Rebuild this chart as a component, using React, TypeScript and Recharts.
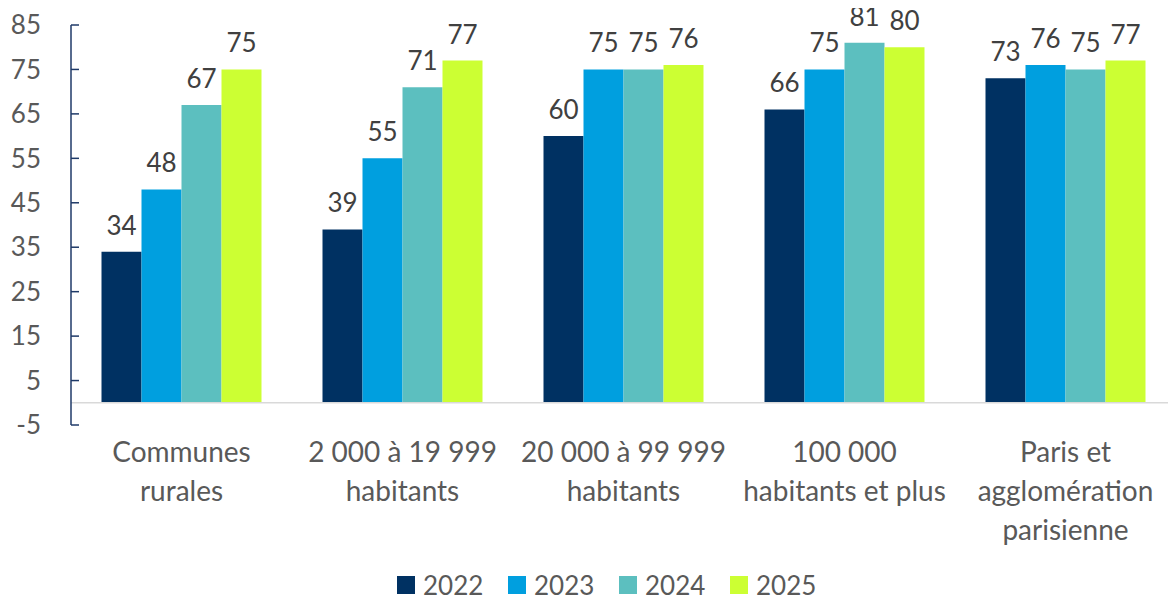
import React from "react";
import { BarChart, Bar, XAxis, YAxis, ReferenceLine, LabelList, Legend } from "recharts";

const categories = [
  "Communes\nrurales",
  "2 000 à 19 999\nhabitants",
  "20 000 à 99 999\nhabitants",
  "100 000\nhabitants et plus",
  "Paris et\nagglomération\nparisienne",
];
const v2022 = [34, 39, 60, 66, 73];
const v2023 = [48, 55, 75, 75, 76];
const v2024 = [67, 71, 75, 81, 75];
const v2025 = [75, 77, 76, 80, 77];
const yTicks = [-5, 5, 15, 25, 35, 45, 55, 65, 75, 85];
const seriesNames = ["2022", "2023", "2024", "2025"];
const colors = ["#003162", "#009FDF", "#5CBFBF", "#CCFF33"];

const data = categories.map((c, i) => ({
  cat: c,
  "2022": v2022[i],
  "2023": v2023[i],
  "2024": v2024[i],
  "2025": v2025[i],
}));

const FONT = "Lato, 'Noto Sans', sans-serif";

const CatTick = (props: any) => {
  const { x, y, payload } = props;
  const lines = String(payload.value).split("\n");
  return (
    <text x={x} y={y} textAnchor="middle" fill="#595959" fontSize={28} fontFamily={FONT}>
      {lines.map((l, i) => (
        <tspan key={i} x={x} y={y + 29 + i * 39}>
          {l}
        </tspan>
      ))}
    </text>
  );
};

const LegendContent = () => (
  <div
    style={{
      display: "flex",
      justifyContent: "flex-start",
      alignItems: "center",
      height: 30,
      paddingLeft: 397,
      fontFamily: FONT,
      fontSize: 26,
      color: "#595959",
    }}
  >
    {seriesNames.map((n, i) => (
      <div key={n} style={{ display: "flex", alignItems: "center", width: 111 }}>
        <div style={{ width: 18, height: 18, background: colors[i], marginRight: 8 }} />
        <span>{n}</span>
      </div>
    ))}
  </div>
);

export default function App() {
  return (
    <div style={{ width: 1176, height: 600, marginTop: -8, marginLeft: -8 }}>
      <BarChart
        width={1176}
        height={600}
        data={data}
        margin={{ top: 25, right: 0, left: 0, bottom: 0 }}
        barCategoryGap="13.8%"
        barGap={0}
      >
        <XAxis
          dataKey="cat"
          axisLine={false}
          tickLine={false}
          interval={0}
          height={145}
          tick={<CatTick />}
        />
        <YAxis
          type="number"
          domain={[-5, 85]}
          ticks={yTicks}
          interval={0}
          width={71}
          axisLine={{ stroke: "#1F3A68", strokeWidth: 1.5 }}
          tickLine={{ stroke: "#1F3A68", strokeWidth: 1.5 }}
          tickSize={-8}
          tickMargin={38}
          tick={{ fill: "#595959", fontSize: 26, fontFamily: FONT }}
        />
        <ReferenceLine y={0} stroke="#D9D9D9" strokeWidth={1.5} />
        {seriesNames.map((n, i) => (
          <Bar key={n} dataKey={n} fill={colors[i]} isAnimationActive={false}>
            <LabelList
              dataKey={n}
              position="top"
              offset={17}
              fill="#404040"
              fontSize={26}
              fontFamily={FONT}
            />
          </Bar>
        ))}
        <Legend verticalAlign="bottom" height={30} content={<LegendContent />} />
      </BarChart>
    </div>
  );
}
